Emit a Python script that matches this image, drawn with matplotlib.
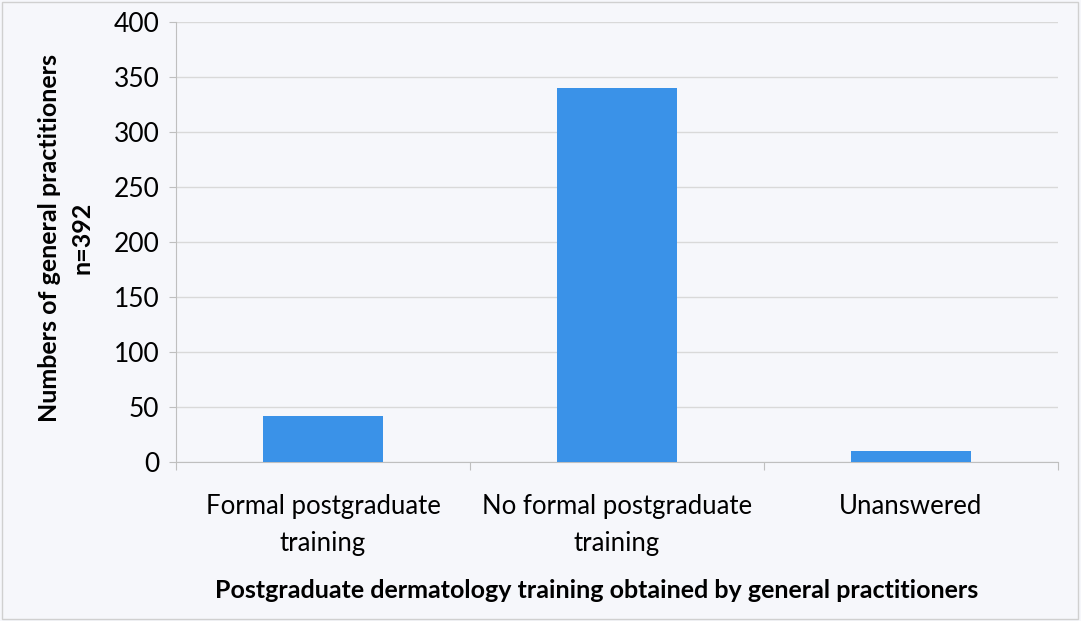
import matplotlib.pyplot as plt
from matplotlib.patches import Rectangle

categories = ['Formal postgraduate\ntraining', 'No formal postgraduate\ntraining', 'Unanswered']
counts = [42, 340, 10]
y_ticks = [0, 50, 100, 150, 200, 250, 300, 350, 400]

plt.rcParams['font.family'] = ['Lato', 'DejaVu Sans']

fig = plt.figure(figsize=(10.81, 6.21), dpi=100, facecolor='#f6f7fb')
ax = fig.add_axes([176 / 1081, 1 - 462 / 621, 882 / 1081, 440 / 621])
ax.set_facecolor('#f6f7fb')

x = range(len(categories))
ax.bar(x, counts, width=0.41, color='#3a92e8', zorder=3)

ax.set_xlim(-0.5, len(categories) - 0.5)
ax.set_ylim(0, 400)
ax.set_yticks(y_ticks)
ax.yaxis.grid(True, color='#d9d9d9', linewidth=1, zorder=0)

# category dividers as ticks on the x axis
ax.set_xticks([-0.5, 0.5, 1.5, 2.5])
ax.set_xticklabels([])
ax.tick_params(axis='x', length=6, color='#bfbfbf', direction='out')
for i, lab in enumerate(categories):
    ax.text(i, -29, lab, ha='center', va='top', fontsize=18.5,
            linespacing=1.6, transform=ax.transData, clip_on=False)

ax.tick_params(axis='y', length=5, color='#bfbfbf', labelsize=19, pad=7)
for s in ['top', 'right']:
    ax.spines[s].set_visible(False)
ax.spines['left'].set_color('#bfbfbf')
ax.spines['bottom'].set_color('#bfbfbf')

fig.text(66 / 1081, 1 - 238 / 621, 'Numbers of general practitioners\nn=392', rotation=90,
         ha='center', va='center', fontsize=18, fontweight='bold', linespacing=1.5)
fig.text(597 / 1081, 1 - 590 / 621, 'Postgraduate dermatology training obtained by general practitioners',
         ha='center', va='center', fontsize=18, fontweight='bold')

# chart area border
fig.patches.append(Rectangle((0.002, 0.003), 0.995, 0.994, transform=fig.transFigure,
                             fill=False, edgecolor='#d0d0d0', linewidth=1))

fig.savefig('out.png', dpi=100, facecolor=fig.get_facecolor())
